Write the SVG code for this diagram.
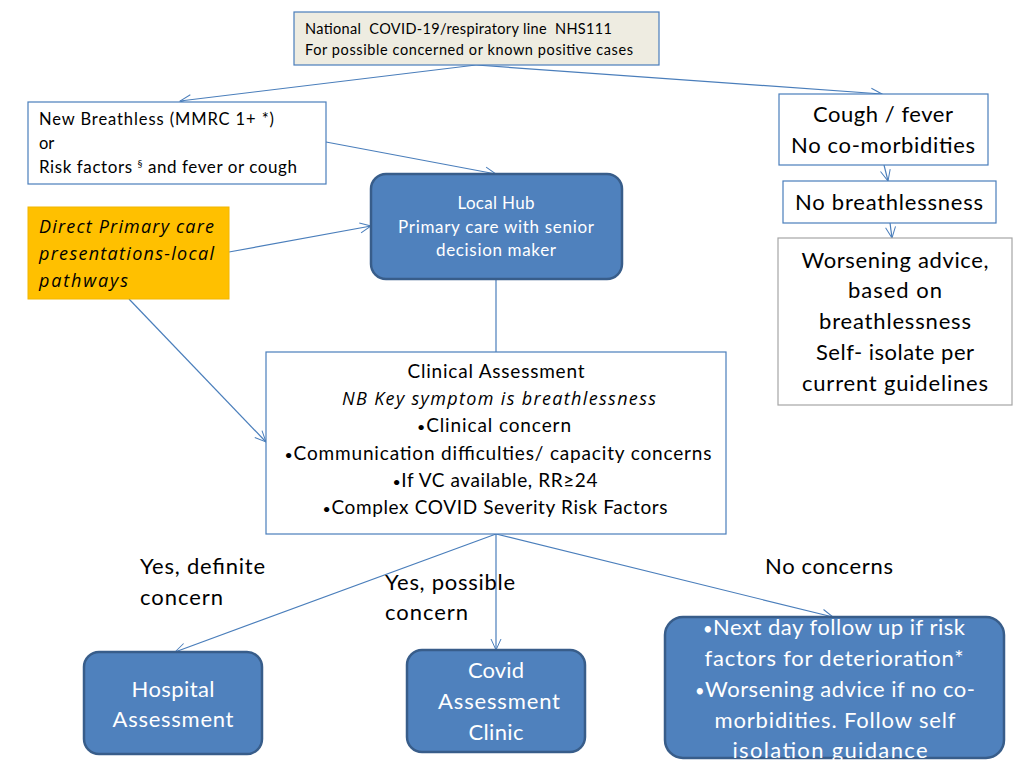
<svg xmlns="http://www.w3.org/2000/svg" width="1024" height="768" viewBox="0 0 1024 768">
<defs>
<marker id="arr" markerWidth="14" markerHeight="12" refX="12" refY="6" orient="auto" markerUnits="userSpaceOnUse">
<path d="M1,1 L12,6 L1,11" fill="none" stroke="#4a7ebb" stroke-width="1"/>
</marker>
</defs>
<style>
.box{fill:#ffffff;stroke:#4a7ebb;stroke-width:1.2}
.grey{fill:#ffffff;stroke:#a6a6a6;stroke-width:1.2}
.blue{fill:#4f81bd;stroke:#385d8a;stroke-width:2.5}
.t{font-family:Lato,"Open Sans","Liberation Sans",sans-serif;fill:#000000;white-space:pre}
.w{font-family:Lato,"Open Sans","Liberation Sans",sans-serif;fill:#ffffff;text-anchor:middle}
.i{font-family:"Open Sans",Lato,"Liberation Sans",sans-serif;font-style:italic}
.c{text-anchor:middle}
.ln{fill:none;stroke:#4a7ebb;stroke-width:1.2}
.b{font-size:0.75em}
</style>
<rect width="1024" height="768" fill="#ffffff"/>
<g id="connectors">
<line class="ln" x1="476" y1="65" x2="180" y2="101" marker-end="url(#arr)"/>
<line class="ln" x1="476" y1="65" x2="882" y2="94" marker-end="url(#arr)"/>
<line class="ln" x1="326" y1="142" x2="496" y2="174" marker-end="url(#arr)"/>
<line class="ln" x1="229" y1="252" x2="371" y2="226" marker-end="url(#arr)"/>
<line class="ln" x1="129" y1="299" x2="266" y2="442" marker-end="url(#arr)"/>
<line class="ln" x1="496" y1="280" x2="496" y2="352"/>
<line class="ln" x1="884" y1="165" x2="888" y2="181" marker-end="url(#arr)"/>
<line class="ln" x1="890" y1="223" x2="892" y2="238" marker-end="url(#arr)"/>
<line class="ln" x1="496" y1="534" x2="175" y2="652" marker-end="url(#arr)"/>
<line class="ln" x1="496" y1="534" x2="496" y2="650" marker-end="url(#arr)"/>
<line class="ln" x1="496" y1="534" x2="833" y2="617" marker-end="url(#arr)"/>
</g>
<g id="nhs111">
<rect x="294" y="12" width="365" height="53" fill="#eeece1" stroke="#4a7ebb" stroke-width="1.2"/>
<text class="t" x="305" y="34" font-size="14.5" textLength="307" lengthAdjust="spacing">National  COVID-19/respiratory line  NHS111</text>
<text class="t" x="305" y="55" font-size="14.5" textLength="328" lengthAdjust="spacing">For possible concerned or known positive cases</text>
</g>
<g id="new-breathless">
<rect class="box" x="28" y="102" width="298" height="82"/>
<text class="t" x="39" y="125" font-size="16.5" textLength="235" lengthAdjust="spacing">New Breathless (MMRC 1+ *)</text>
<text class="t" x="39" y="149" font-size="16.5">or</text>
<text class="t" x="39" y="173" font-size="17" textLength="258" lengthAdjust="spacing">Risk factors <tspan font-size="10" dy="-6">§</tspan><tspan dy="6"> and fever or cough</tspan></text>
</g>
<g id="direct-primary">
<rect x="28" y="207" width="201" height="92" fill="#ffc000" stroke="#f2b600" stroke-width="1"/>
<text class="t i" x="39" y="233" font-size="18" textLength="175" lengthAdjust="spacing">Direct Primary care</text>
<text class="t i" x="39" y="260" font-size="18" textLength="175" lengthAdjust="spacing">presentations-local</text>
<text class="t i" x="39" y="287" font-size="18" textLength="89" lengthAdjust="spacing">pathways</text>
</g>
<g id="local-hub">
<rect class="blue" x="371" y="174" width="251" height="105" rx="15"/>
<text class="w" x="496" y="209" font-size="17" textLength="77" lengthAdjust="spacing">Local Hub</text>
<text class="w" x="496" y="233" font-size="17" textLength="196" lengthAdjust="spacing">Primary care with senior</text>
<text class="w" x="496" y="256" font-size="17" textLength="120" lengthAdjust="spacing">decision maker</text>
</g>
<g id="cough-fever">
<rect class="box" x="779" y="94" width="209" height="71"/>
<text class="t c" x="883" y="122" font-size="22" textLength="140" lengthAdjust="spacing">Cough / fever</text>
<text class="t c" x="883" y="153" font-size="22" textLength="184" lengthAdjust="spacing">No co-morbidities</text>
</g>
<g id="no-breathlessness">
<rect class="box" x="783" y="181" width="213" height="42"/>
<text class="t c" x="889" y="210" font-size="22" textLength="188" lengthAdjust="spacing">No breathlessness</text>
</g>
<g id="worsening-advice">
<rect class="grey" x="778" y="238" width="234" height="167"/>
<text class="t c" x="895" y="268" font-size="22" textLength="187" lengthAdjust="spacing">Worsening advice,</text>
<text class="t c" x="895" y="298" font-size="22" textLength="94" lengthAdjust="spacing">based on</text>
<text class="t c" x="895" y="329" font-size="22" textLength="152" lengthAdjust="spacing">breathlessness</text>
<text class="t c" x="895" y="360" font-size="22" textLength="158" lengthAdjust="spacing">Self- isolate per</text>
<text class="t c" x="895" y="391" font-size="22" textLength="186" lengthAdjust="spacing">current guidelines</text>
</g>
<g id="clinical-assessment">
<rect class="box" x="266" y="352" width="460" height="182"/>
<text class="t c" x="496" y="378" font-size="19" textLength="177" lengthAdjust="spacing">Clinical Assessment</text>
<text class="t c i" x="499" y="405" font-size="18" textLength="314" lengthAdjust="spacing">NB Key symptom is breathlessness</text>
<text class="t c" x="494" y="432" font-size="19" textLength="154" lengthAdjust="spacing"><tspan class="b">•</tspan>Clinical concern</text>
<text class="t c" x="498" y="460" font-size="19" textLength="427" lengthAdjust="spacing"><tspan class="b">•</tspan>Communication difficulties/ capacity concerns</text>
<text class="t c" x="495" y="487" font-size="19" textLength="205" lengthAdjust="spacing"><tspan class="b">•</tspan>If VC available, RR≥24</text>
<text class="t c" x="495" y="514" font-size="19" textLength="345" lengthAdjust="spacing"><tspan class="b">•</tspan>Complex COVID Severity Risk Factors</text>
</g>
<g id="labels">
<text class="t" x="140" y="574" font-size="22" textLength="125" lengthAdjust="spacing">Yes, definite</text>
<text class="t" x="140" y="605" font-size="22" textLength="83" lengthAdjust="spacing">concern</text>
<text class="t" x="385" y="590" font-size="22" textLength="130" lengthAdjust="spacing">Yes, possible</text>
<text class="t" x="385" y="620" font-size="22" textLength="83" lengthAdjust="spacing">concern</text>
<text class="t" x="765" y="574" font-size="22" textLength="128" lengthAdjust="spacing">No concerns</text>
</g>
<g id="hospital-assessment">
<rect class="blue" x="84" y="652" width="178" height="102" rx="15"/>
<text class="w" x="173" y="697" font-size="22" textLength="83" lengthAdjust="spacing">Hospital</text>
<text class="w" x="173" y="727" font-size="22" textLength="121" lengthAdjust="spacing">Assessment</text>
</g>
<g id="covid-clinic">
<rect class="blue" x="407" y="650" width="178" height="102" rx="15"/>
<text class="w" x="496" y="678" font-size="22" textLength="56" lengthAdjust="spacing">Covid</text>
<text class="w" x="499" y="709" font-size="22" textLength="122" lengthAdjust="spacing">Assessment</text>
<text class="w" x="496" y="740" font-size="22" textLength="55" lengthAdjust="spacing">Clinic</text>
</g>
<g id="no-concerns-action">
<rect class="blue" x="665" y="617" width="339" height="141" rx="18"/>
<text class="w" x="834" y="635" font-size="22" textLength="262" lengthAdjust="spacing"><tspan class="b">•</tspan>Next day follow up if risk</text>
<text class="w" x="834" y="666" font-size="22" textLength="259" lengthAdjust="spacing">factors for deterioration*</text>
<text class="w" x="835" y="697" font-size="22" textLength="280" lengthAdjust="spacing"><tspan class="b">•</tspan>Worsening advice if no co-</text>
<text class="w" x="835" y="728" font-size="22" textLength="241" lengthAdjust="spacing">morbidities. Follow self</text>
<text class="w" x="830" y="758" font-size="22" textLength="195" lengthAdjust="spacing">isolation guidance</text>
</g>
</svg>
